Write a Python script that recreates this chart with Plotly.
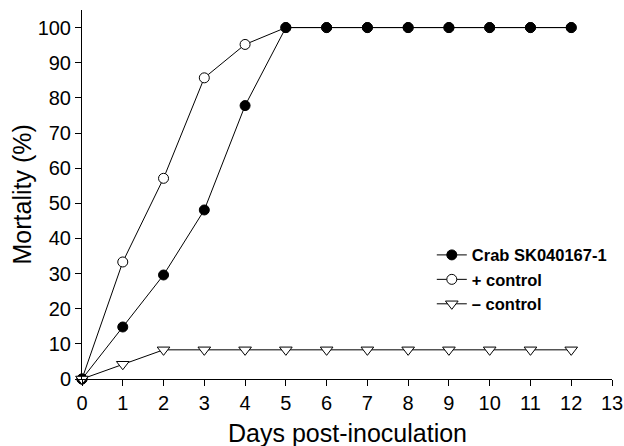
import plotly.graph_objects as go

days = list(range(0, 13))
crab = [0, 14.8, 29.6, 48.1, 77.8, 100, 100, 100, 100, 100, 100, 100, 100]
pos_control = [0, 33.3, 57.1, 85.7, 95.2, 100, 100, 100, 100, 100, 100, 100, 100]
neg_control = [0, 4.2, 8.3, 8.3, 8.3, 8.3, 8.3, 8.3, 8.3, 8.3, 8.3, 8.3, 8.3]
x_ticks = list(range(0, 14))
y_ticks = list(range(0, 101, 10))
x_title = "Days post-inoculation"
y_title = "Mortality (%)"

font_family = "Liberation Sans, Arial, Helvetica, sans-serif"

fig = go.Figure()
fig.add_trace(go.Scatter(
    x=days, y=pos_control, mode="lines+markers", name="+ control", legendrank=2,
    line=dict(color="black", width=1),
    marker=dict(symbol="circle", size=10, color="white", line=dict(color="black", width=1)),
    cliponaxis=False))
fig.add_trace(go.Scatter(
    x=days, y=crab, mode="lines+markers", name="Crab SK040167-1", legendrank=1,
    line=dict(color="black", width=1),
    marker=dict(symbol="circle", size=10, color="black", line=dict(color="black", width=1)),
    cliponaxis=False))
fig.add_trace(go.Scatter(
    x=days, y=neg_control, mode="lines+markers", name="– control", legendrank=3,
    line=dict(color="black", width=1),
    marker=dict(symbol="triangle-down", size=11, color="white", line=dict(color="black", width=1)),
    cliponaxis=False))

fig.update_layout(
    width=624, height=446,
    margin=dict(l=82, r=12, t=10, b=67),
    plot_bgcolor="white", paper_bgcolor="white",
    font=dict(family=font_family, color="black"),
    showlegend=True,
    legend=dict(x=0.66, y=0.383, xanchor="left", yanchor="top",
                font=dict(size=16.5, family="Liberation Sans, Arial, sans-serif", weight="bold"),
                bgcolor="rgba(0,0,0,0)", tracegroupgap=0, itemwidth=30),
    xaxis=dict(range=[0, 13], tickmode="array", tickvals=x_ticks,
               ticks="outside", ticklen=6, tickcolor="black", showline=True,
               linecolor="black", linewidth=1, showgrid=False, zeroline=False,
               tickfont=dict(size=20), automargin=False),
    yaxis=dict(range=[0, 105], tickmode="array", tickvals=y_ticks,
               ticks="outside", ticklen=6, tickcolor="black", showline=True,
               linecolor="black", linewidth=1, showgrid=False, zeroline=False,
               tickfont=dict(size=20), automargin=False),
    annotations=[
        dict(text=x_title, xref="paper", yref="paper", x=0.5, y=0, xanchor="center",
             yanchor="middle", yshift=-54, showarrow=False, font=dict(size=25)),
        dict(text=y_title, xref="paper", yref="paper", x=0, y=0.5, xanchor="center",
             yanchor="middle", xshift=-61, textangle=-90, showarrow=False, font=dict(size=25)),
    ],
)

fig.write_html("out.html", config={"displayModeBar": False},
               post_script="document.body.style.margin='0';document.body.style.overflow='hidden';")
